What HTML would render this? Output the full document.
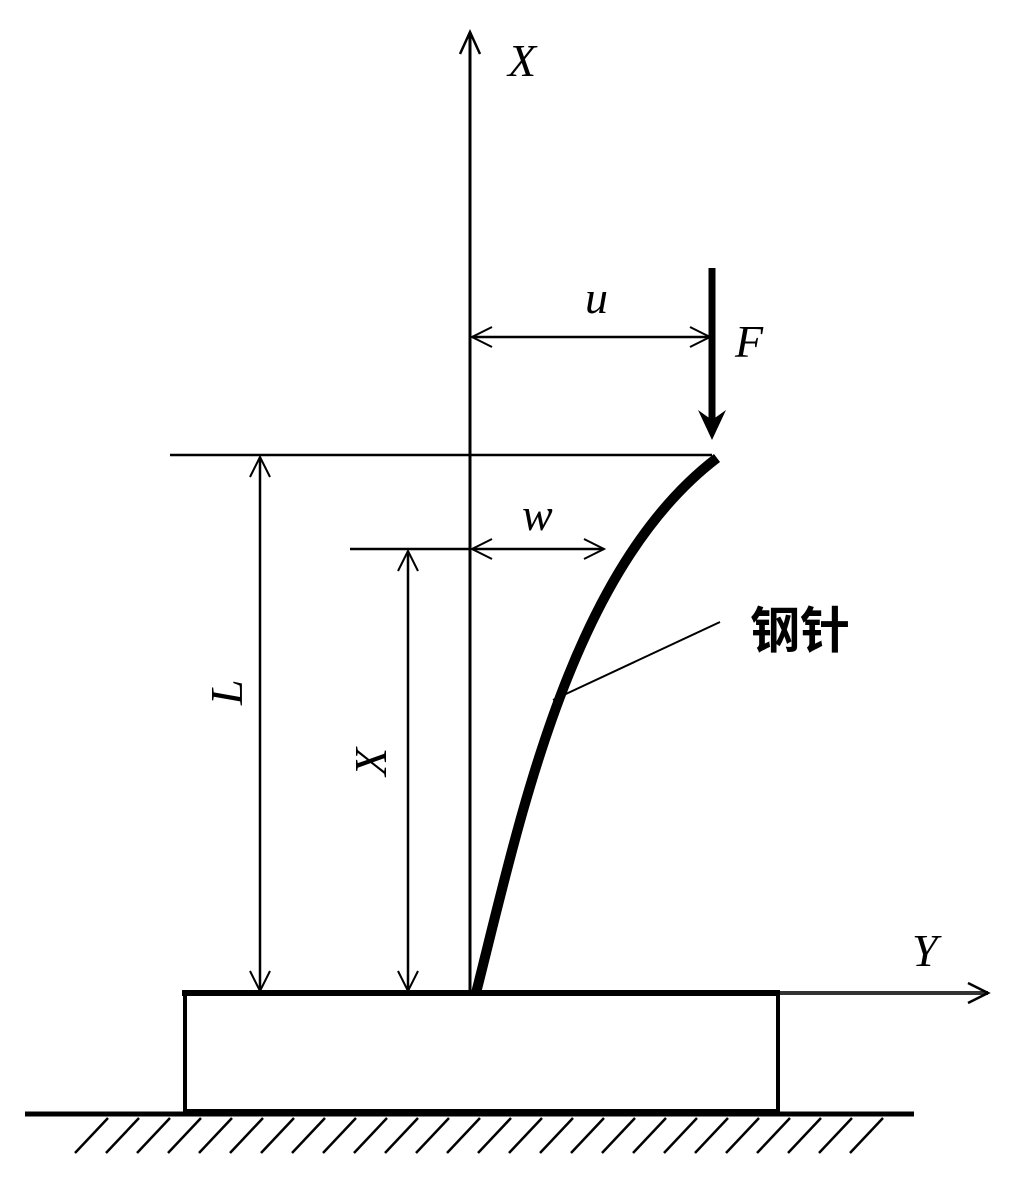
<!DOCTYPE html>
<html><head><meta charset="utf-8"><style>body{margin:0;background:#fff}svg{display:block}</style></head><body>
<svg width="1016" height="1181" viewBox="0 0 1016 1181" xmlns="http://www.w3.org/2000/svg">
<g stroke="#000" fill="none">
<!-- X axis -->
<line x1="470" y1="32" x2="470" y2="993" stroke-width="3"/>
<polyline points="460,54 470,32 480,54" stroke-width="2.5"/>
<!-- Y axis -->
<line x1="778" y1="993" x2="988" y2="993" stroke-width="4" stroke="#333"/>
<polyline points="968,983 988,993 968,1003" stroke-width="2.5"/>
<!-- block -->
<rect x="185" y="994" width="593" height="117" stroke-width="4"/>
<line x1="182" y1="993" x2="780" y2="993" stroke-width="6"/>
<!-- ground -->
<line x1="25" y1="1114" x2="914" y2="1114" stroke-width="5"/>
<g stroke-width="2.5">
<line x1="108" y1="1118" x2="75" y2="1153"/><line x1="139" y1="1118" x2="106" y2="1153"/><line x1="170" y1="1118" x2="137" y2="1153"/><line x1="201" y1="1118" x2="168" y2="1153"/><line x1="232" y1="1118" x2="199" y2="1153"/><line x1="263" y1="1118" x2="230" y2="1153"/><line x1="294" y1="1118" x2="261" y2="1153"/><line x1="325" y1="1118" x2="292" y2="1153"/><line x1="356" y1="1118" x2="323" y2="1153"/><line x1="387" y1="1118" x2="354" y2="1153"/><line x1="418" y1="1118" x2="385" y2="1153"/><line x1="449" y1="1118" x2="416" y2="1153"/><line x1="480" y1="1118" x2="447" y2="1153"/><line x1="511" y1="1118" x2="478" y2="1153"/><line x1="542" y1="1118" x2="509" y2="1153"/><line x1="573" y1="1118" x2="540" y2="1153"/><line x1="604" y1="1118" x2="571" y2="1153"/><line x1="635" y1="1118" x2="602" y2="1153"/><line x1="666" y1="1118" x2="633" y2="1153"/><line x1="697" y1="1118" x2="664" y2="1153"/><line x1="728" y1="1118" x2="695" y2="1153"/><line x1="759" y1="1118" x2="726" y2="1153"/><line x1="790" y1="1118" x2="757" y2="1153"/><line x1="821" y1="1118" x2="788" y2="1153"/><line x1="852" y1="1118" x2="819" y2="1153"/><line x1="883" y1="1118" x2="850" y2="1153"/>
</g>
<!-- needle -->
<path d="M476,993 C520,820 570,570 717,458" stroke-width="10"/>
<!-- top horizontal line -->
<line x1="170" y1="455" x2="712" y2="455" stroke-width="2.5"/>
<!-- L dimension -->
<line x1="260" y1="457" x2="260" y2="991" stroke-width="2.5"/>
<polyline points="250,477 260,457 270,477" stroke-width="2"/>
<polyline points="250,971 260,991 270,971" stroke-width="2"/>
<!-- X dimension -->
<line x1="350" y1="549" x2="470" y2="549" stroke-width="2.5"/>
<line x1="408" y1="551" x2="408" y2="991" stroke-width="2.5"/>
<polyline points="398,571 408,551 418,571" stroke-width="2"/>
<polyline points="398,971 408,991 418,971" stroke-width="2"/>
<!-- w -->
<line x1="472" y1="549" x2="604" y2="549" stroke-width="2.5"/>
<polyline points="492,539 472,549 492,559" stroke-width="2"/>
<polyline points="584,539 604,549 584,559" stroke-width="2"/>
<!-- u -->
<line x1="472" y1="337" x2="710" y2="337" stroke-width="2.5"/>
<polyline points="492,327 472,337 492,347" stroke-width="2"/>
<polyline points="690,327 710,337 690,347" stroke-width="2"/>
<!-- F -->
<line x1="712" y1="268" x2="712" y2="420" stroke-width="7"/>
<!-- leader -->
<line x1="720" y1="622" x2="553" y2="700" stroke-width="2"/>
</g>
<polygon points="698,410 712,420 726,410 712,440" fill="#000"/>
<g font-family="Liberation Serif, serif" font-style="italic" font-size="46" fill="#000">
<text x="508" y="76">X</text>
<text x="585" y="313">u</text>
<text x="735" y="357">F</text>
<text x="522" y="530">w</text>
<text x="912" y="966">Y</text>
<text transform="translate(242,705) rotate(-90)">L</text>
<text transform="translate(386,776) rotate(-90)">X</text>
</g>
<text x="750" y="648" font-family="Liberation Sans, 'Noto Sans CJK SC', sans-serif" font-size="50" font-weight="bold" fill="#000">钢针</text>
</svg>
</body></html>
